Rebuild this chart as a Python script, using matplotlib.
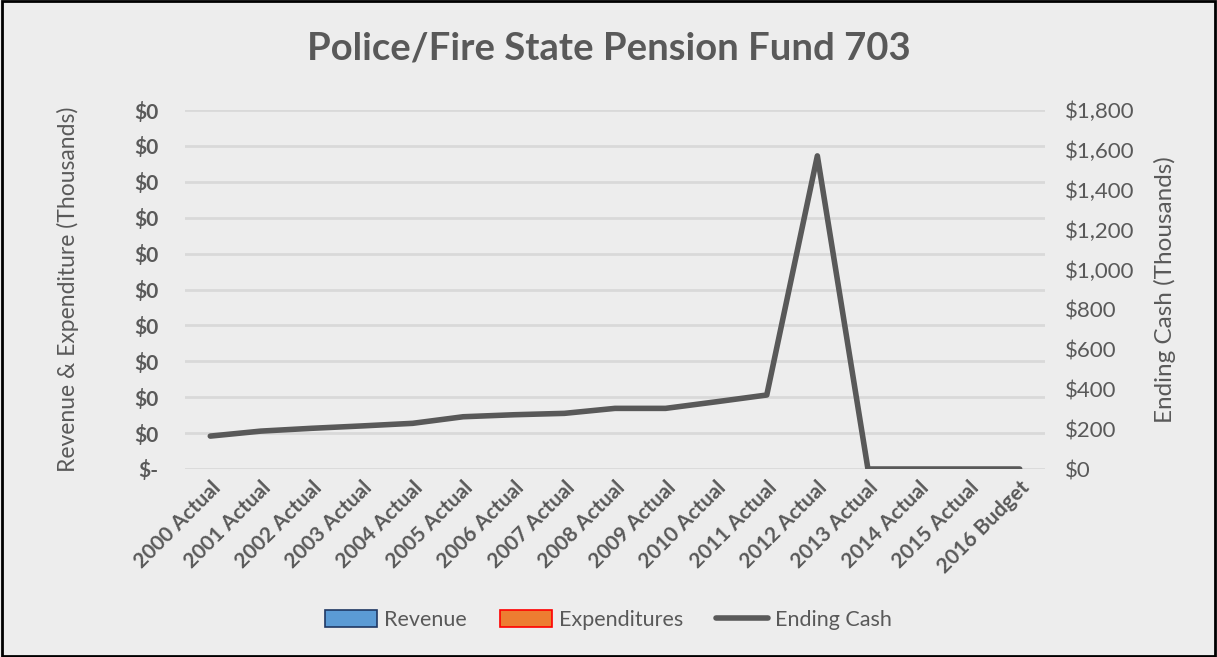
import matplotlib
matplotlib.use("Agg")
import matplotlib.pyplot as plt
from matplotlib.patches import Patch, Rectangle
from matplotlib.lines import Line2D
from matplotlib.ticker import FuncFormatter, MultipleLocator
import numpy as np

plt.rcParams['font.family'] = ['Lato', 'DejaVu Sans']

years = ['2000 Actual', '2001 Actual', '2002 Actual', '2003 Actual', '2004 Actual',
         '2005 Actual', '2006 Actual', '2007 Actual', '2008 Actual', '2009 Actual',
         '2010 Actual', '2011 Actual', '2012 Actual', '2013 Actual', '2014 Actual',
         '2015 Actual', '2016 Budget']
revenue = [0] * 17
expenditures = [0] * 17
ending_cash = [165, 190, 204, 216, 229, 262, 272, 279, 304, 304, 337, 371, 1570, 0, 0, 0, 0]

BG = '#ededed'
TXT = '#595959'
GRID = '#d9d9d9'

fig = plt.figure(figsize=(12.17, 6.57), dpi=100, facecolor=BG)
fig.patches.append(Rectangle((0.002, 0.002), 0.996, 0.996, transform=fig.transFigure,
                             fill=False, edgecolor='black', linewidth=2))
ax = fig.add_axes([185 / 1217, 1 - 469 / 657, (1045 - 185) / 1217, (469 - 110) / 657])
ax.set_facecolor(BG)
x = np.arange(len(years))

# bars (all zero in this fund)
w = 0.35
ax.bar(x - w / 2, revenue, w, color='#5b9bd5', linewidth=0)
ax.bar(x + w / 2, expenditures, w, color='#ed7d31', linewidth=0)
ax.set_ylim(0, 10)
ax.yaxis.set_major_locator(MultipleLocator(1))
ax.yaxis.set_major_formatter(FuncFormatter(lambda v, p: '$-' if v == 0 else '$0'))
ax.grid(axis='y', color=GRID, linewidth=2)
ax.set_axisbelow(True)
for s in ax.spines.values():
    s.set_visible(False)
ax.tick_params(axis='y', length=0, pad=19, labelsize=15, labelcolor=TXT)
for t in ax.get_yticklabels():
    t.set_fontweight('bold')
ax.set_xlim(-0.5, len(years) - 0.5)
ax.set_xticks(x)
ax.set_xticklabels(years, rotation=45, ha='right', rotation_mode='anchor',
                   fontsize=15, fontweight='bold', color=TXT)
ax.tick_params(axis='x', length=0, pad=6)
ax.set_ylabel('Revenue & Expenditure (Thousands)', fontsize=16.5, color=TXT, labelpad=40)

ax2 = ax.twinx()
ax2.plot(x, ending_cash, color='#595959', linewidth=4, solid_capstyle='round',
         solid_joinstyle='round')
ax2.set_ylim(0, 1800)
ax2.yaxis.set_major_locator(MultipleLocator(200))
ax2.yaxis.set_major_formatter(FuncFormatter(lambda v, p: f'${v:,.0f}'))
ax2.tick_params(axis='y', length=0, pad=14, labelsize=16, labelcolor=TXT)
for s in ax2.spines.values():
    s.set_visible(False)
ax2.set_ylabel('Ending Cash (Thousands)', fontsize=17.5, color=TXT, labelpad=14)

fig.text(0.5, 1 - 48 / 657, 'Police/Fire State Pension Fund 703', ha='center', va='center',
         fontsize=27.5, fontweight='bold', color=TXT)

handles = [Patch(facecolor='#5b9bd5', edgecolor='#1f3864', linewidth=1.2),
           Patch(facecolor='#ed7d31', edgecolor='#ff0000', linewidth=1.2),
           Line2D([0], [0], color='#595959', linewidth=4, solid_capstyle='round')]
fig.legend(handles, ['Revenue', 'Expenditures', 'Ending Cash'], loc='center',
           bbox_to_anchor=(0.5, 1 - 620 / 657), ncol=3, frameon=False, fontsize=15.5,
           labelcolor=TXT, handlelength=2.4, handleheight=0.85, handletextpad=0.33,
           columnspacing=1.53)

fig.savefig('out.png', dpi=100, facecolor=BG)
